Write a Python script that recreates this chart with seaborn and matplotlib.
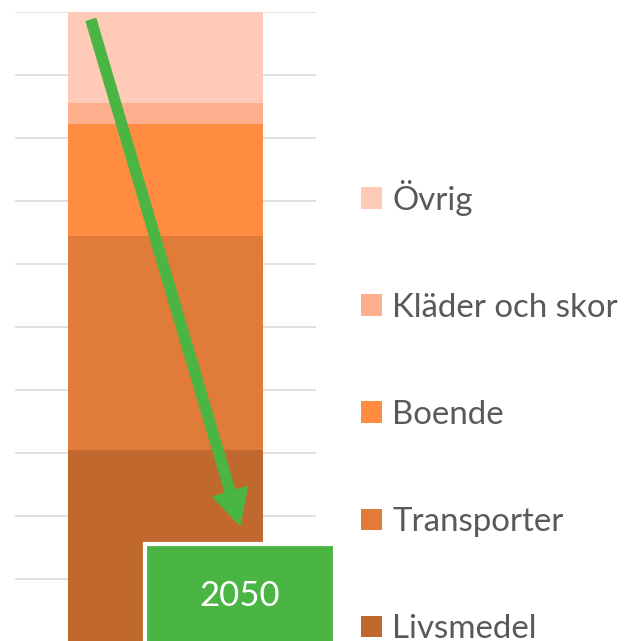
import matplotlib
matplotlib.use("Agg")
import matplotlib.pyplot as plt
import matplotlib.patches as mpatches
import numpy as np
import pandas as pd
import seaborn as sns

# ---- data (bottom to top) ----
categories = ["Livsmedel", "Transporter", "Boende", "Kläder och skor", "Övrig"]
values = [3.05, 3.40, 1.78, 0.32, 1.46]
colors = ["#C1682E", "#E07B39", "#FF8C40", "#FFAF8D", "#FFCAB7"]
bar_label = [""]
year_label = "2050"

sns.set_theme(style="white")
plt.rcParams["font.family"] = ["Lato", "DejaVu Sans"]

W, H = 627, 641
fig = plt.figure(figsize=(W / 100, H / 100), dpi=100)

def fx(px):
    return px / W

def fy(py):
    return 1 - py / H

# axes: left 15px, right 316px, top (value 10) at 12px, value 0 at 642px
ax = fig.add_axes([fx(15), fy(642), fx(316) - fx(15), fy(12) - fy(642)])

cum = np.cumsum(values)
# draw from the top-most cumulative layer down so each lower layer covers
for i in range(len(values) - 1, -1, -1):
    df = pd.DataFrame({"x": bar_label, "y": [cum[i]]})
    sns.barplot(data=df, x="x", y="y", color=colors[i], saturation=1,
                width=0.645, ax=ax, zorder=2, linewidth=0)

ax.set_xlim(-0.5, 0.5)
ax.set_ylim(0, 10)
ax.set_yticks(np.arange(0, 11, 1))
ax.yaxis.grid(True, color="#D9D9D9", linewidth=1.1)
ax.set_axisbelow(True)
ax.tick_params(left=False, bottom=False, labelleft=False, labelbottom=False)
ax.set_xlabel("")
ax.set_ylabel("")
for s in ax.spines.values():
    s.set_visible(False)

# legend (top entry = Övrig)
handles = [mpatches.Patch(facecolor=c, edgecolor="none") for c in colors[::-1]]
labels = categories[::-1]
leg = fig.legend(handles, labels, loc="upper left",
                 bbox_to_anchor=(fx(361), fy(180)), frameon=False,
                 fontsize=23.8, labelcolor="#595959",
                 handlelength=0.64, handleheight=0.64, handletextpad=0.31,
                 labelspacing=2.33, borderaxespad=0, borderpad=0)

# green arrow
green = "#4BB543"
ax.annotate("", xy=(fx(240), fy(525)), xytext=(fx(91), fy(20)),
            xycoords="figure fraction", textcoords="figure fraction",
            arrowprops=dict(width=7.2, headwidth=26, headlength=25,
                            color=green, shrink=0), zorder=5)

# green year box
box = mpatches.Rectangle((fx(145), fy(660)), fx(335) - fx(145), fy(544) - fy(660),
                         transform=fig.transFigure, facecolor=green,
                         edgecolor="white", linewidth=3, zorder=6)
fig.patches.append(box)
fig.text(fx(240), fy(596), year_label, color="white", fontsize=25,
         ha="center", va="center", zorder=7)

fig.savefig("out.png", dpi=100)
